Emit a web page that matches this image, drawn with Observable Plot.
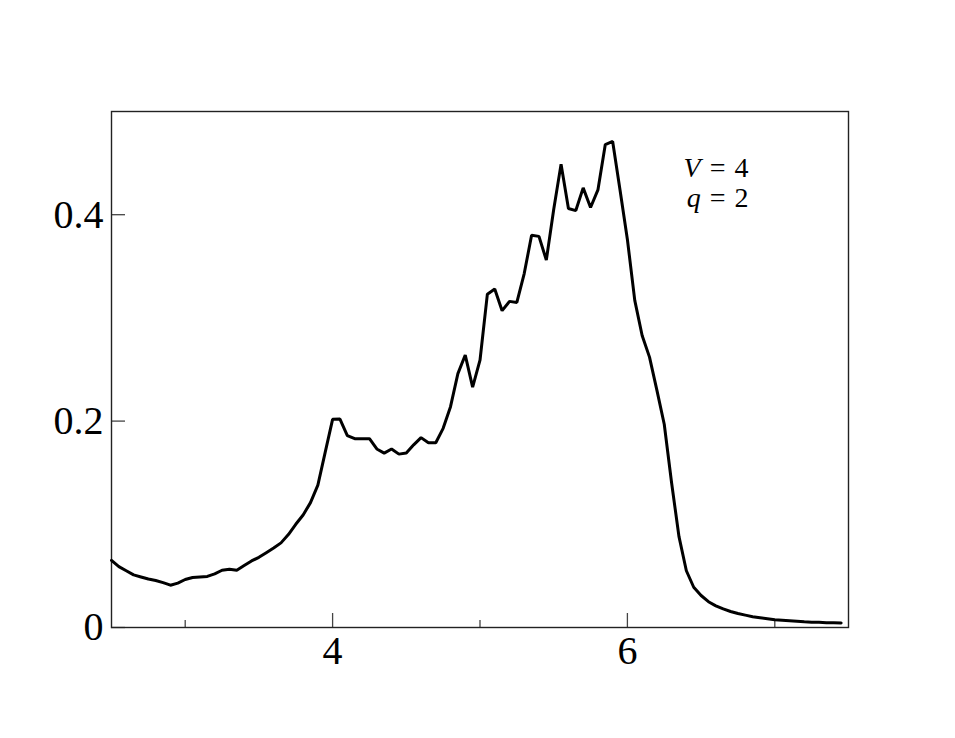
<!DOCTYPE html>
<html>
<head>
<meta charset="utf-8">
<script src="https://cdn.jsdelivr.net/npm/d3@7"></script>
<script src="https://cdn.jsdelivr.net/npm/@observablehq/plot@0.6"></script>
<style>
  html, body { margin: 0; padding: 0; background: #fff; }
  #chart svg { display: block; }
</style>
</head>
<body>
<div id="chart"></div>
<script>
// x sampled every 0.05 from 2.5 to 7.45
const xStart = 2.5;
const xStep = 0.05;
const yValues = [
  0.065, 0.059, 0.055, 0.051, 0.049, 0.047, 0.0455, 0.0435, 0.041, 0.043,   // 2.50 - 2.95
  0.0465, 0.0485, 0.049, 0.0495, 0.052, 0.0555, 0.0565, 0.0555, 0.060, 0.0645, // 3.00 - 3.45
  0.068, 0.0725, 0.077, 0.082, 0.090, 0.100, 0.109, 0.121, 0.138, 0.170,     // 3.50 - 3.95
  0.2017, 0.202, 0.186, 0.183, 0.183, 0.183, 0.173, 0.169, 0.173, 0.168,     // 4.00 - 4.45
  0.169, 0.177, 0.184, 0.179, 0.179, 0.193, 0.214, 0.246, 0.264, 0.233,      // 4.50 - 4.95
  0.259, 0.323, 0.328, 0.307, 0.316, 0.315, 0.343, 0.380, 0.379, 0.356,      // 5.00 - 5.45
  0.405, 0.449, 0.406, 0.404, 0.426, 0.407, 0.424, 0.468, 0.471, 0.424,      // 5.50 - 5.95
  0.376, 0.317, 0.283, 0.262, 0.230, 0.197, 0.140, 0.088, 0.055, 0.039,      // 6.00 - 6.45
  0.031, 0.025, 0.021, 0.018, 0.0155, 0.0135, 0.012, 0.0105, 0.0095, 0.0085, // 6.50 - 6.95
  0.0075, 0.007, 0.0065, 0.006, 0.0055, 0.0052, 0.005, 0.0047, 0.0045, 0.0043 // 7.00 - 7.45
];
const xMajorTicks = [4, 6];
const xMinorTicks = [3, 5, 7];
const yTicks = [0, 0.2, 0.4];
const yTickLabels = ["0", "0.2", "0.4"];
const annotationLines = ["V = 4", "q = 2"];

const data = yValues.map((y, i) => ({x: +(xStart + i * xStep).toFixed(2), y}));

const serif = "'Liberation Serif', 'DejaVu Serif', serif";

const chart = Plot.plot({
  width: 955,
  height: 738,
  marginTop: 111,
  marginLeft: 111,
  marginRight: 107,
  marginBottom: 111,
  style: {fontFamily: serif, background: "#fff", color: "#000"},
  x: {domain: [2.5, 7.5]},
  y: {domain: [0, 0.5]},
  marks: [
    Plot.axisX({ticks: xMajorTicks, tickSize: -14, tickPadding: 22, fontSize: 40, tickFormat: d => String(d), label: null, stroke: "#444", strokeWidth: 1.3}),
    Plot.axisX({ticks: xMinorTicks, tickSize: -7, tickFormat: () => "", label: null, stroke: "#444", strokeWidth: 1.3}),
    Plot.axisY({ticks: yTicks, tickSize: -14, tickPadding: 22, fontSize: 40, tickFormat: (d, i) => yTickLabels[i], label: null, stroke: "#444", strokeWidth: 1.3}),
    Plot.frame({stroke: "#222", strokeWidth: 1.4}),
    Plot.line(data, {x: "x", y: "y", stroke: "#000", strokeWidth: 3, strokeLinejoin: "miter"}),
    Plot.text([annotationLines.join("\n")], {
      frameAnchor: "top-right",
      dx: -100,
      dy: 44,
      text: d => d,
      textAnchor: "end",
      lineAnchor: "top",
      lineHeight: 1.08,
      fontSize: 28,
      fontFamily: serif,
      fill: "#000",
      className: "annot"
    })
  ]
});

// italicize the variable names in the annotation
d3.select(chart).selectAll("g.annot text tspan, g.annot text").each(function() {
  const el = d3.select(this);
  if (this.querySelector && this.querySelector("tspan")) return;
  const txt = this.textContent;
  if (!txt) return;
  const m = txt.match(/^(\S)(.*)$/);
  if (!m) return;
  this.textContent = "";
  el.append("tspan").attr("font-style", "italic").text(m[1]);
  el.append("tspan").attr("word-spacing", "2px").text(m[2]);
});

document.getElementById("chart").appendChild(chart);
</script>
</body>
</html>
